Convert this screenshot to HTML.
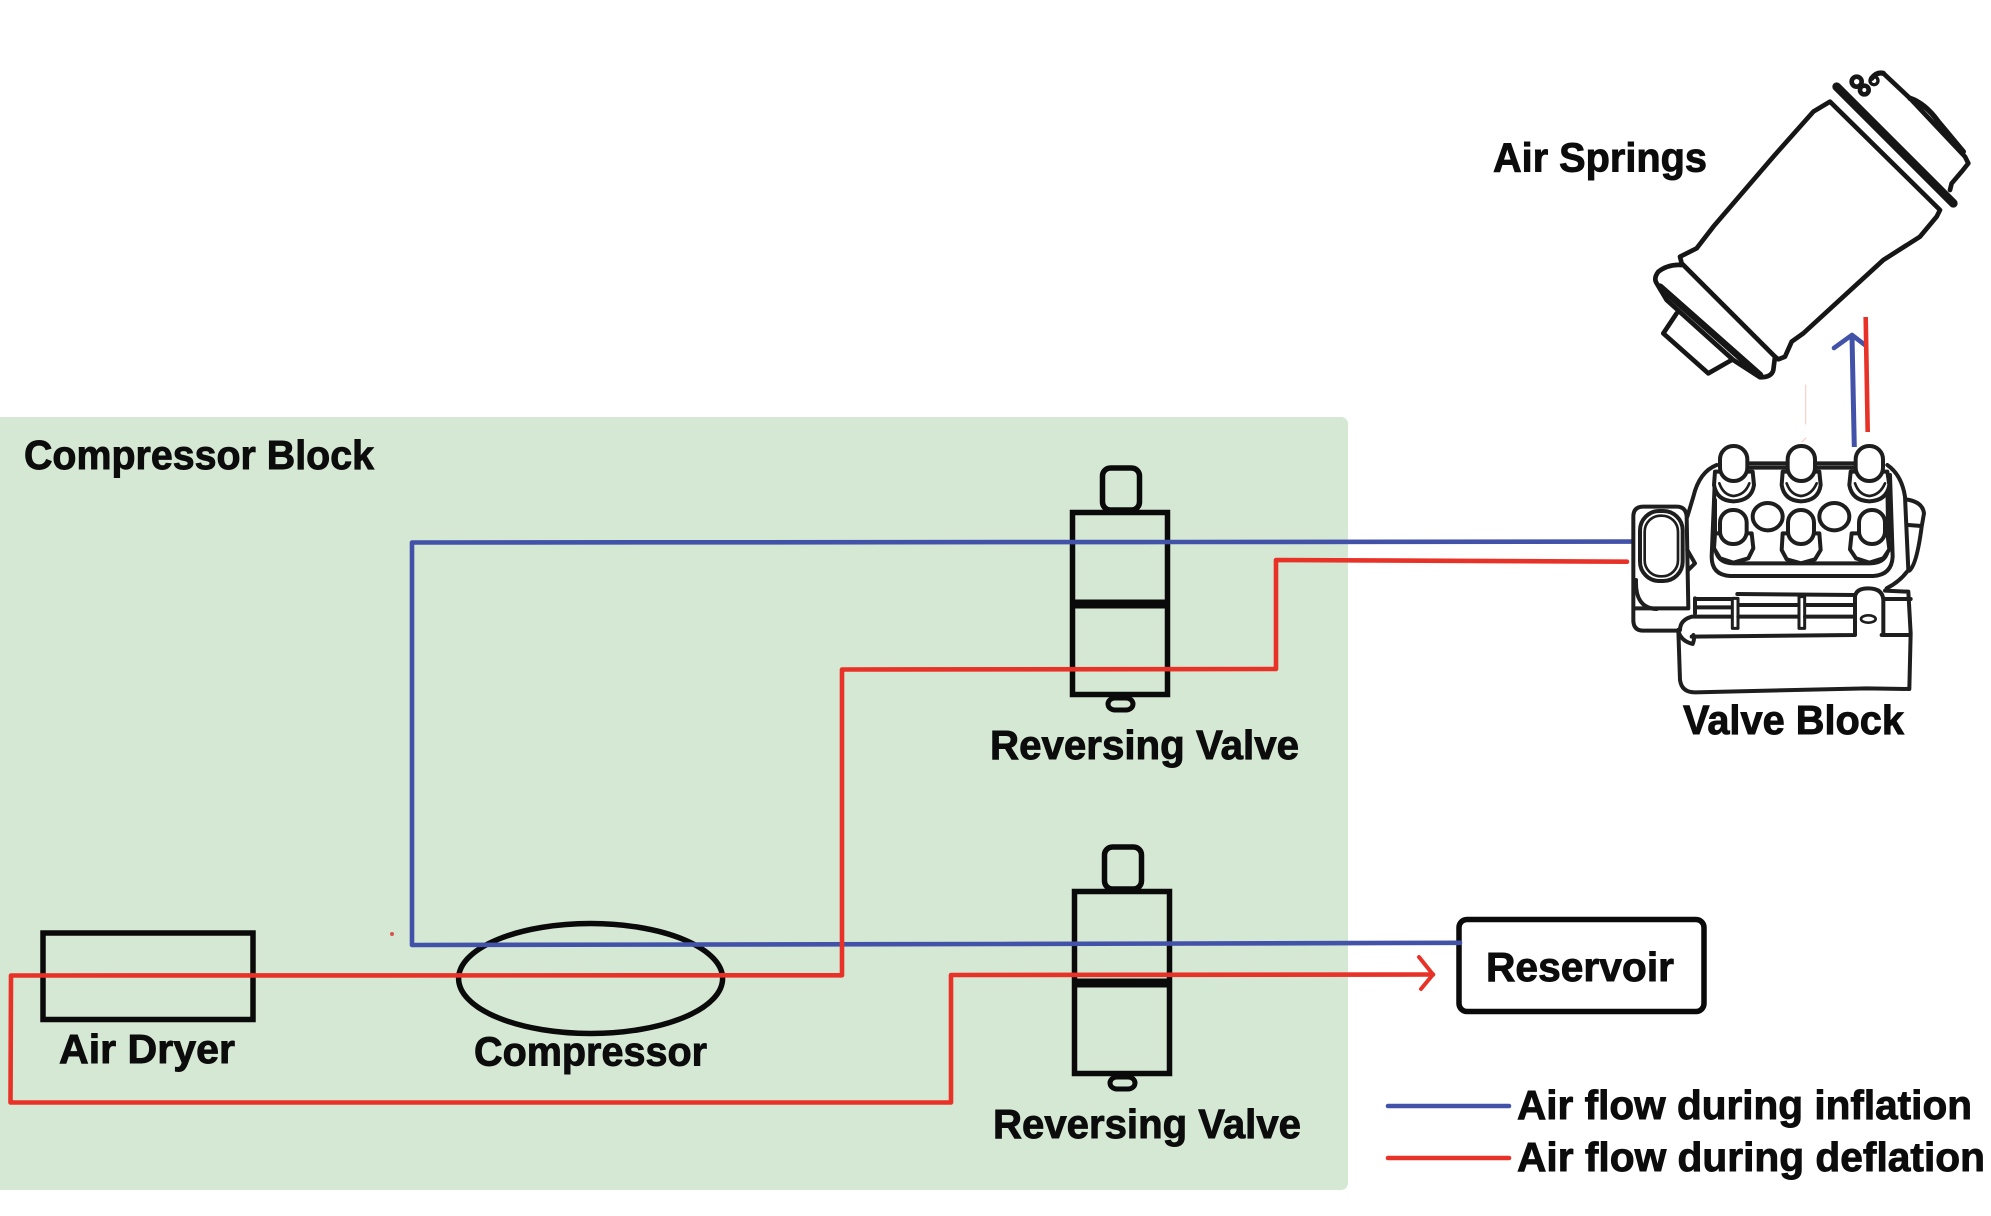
<!DOCTYPE html>
<html><head><meta charset="utf-8"><style>
html,body{margin:0;padding:0;background:#fff;width:1991px;height:1216px;overflow:hidden}
svg{display:block}
text{font-family:"Liberation Sans",sans-serif;font-weight:700;fill:#0c0c0c;stroke:#0c0c0c;stroke-width:.9px;font-size:41px}
</style></head><body>
<svg width="1991" height="1216" viewBox="0 0 1991 1216" xmlns="http://www.w3.org/2000/svg">
<rect x="-8" y="417" width="1356" height="773" rx="7" fill="#d5e8d4"/>

<!-- air dryer, compressor -->
<rect x="43" y="933" width="210" height="86.5" fill="none" stroke="#0a0a0a" stroke-width="5.5"/>
<ellipse cx="590.6" cy="978.5" rx="132" ry="55" fill="none" stroke="#0a0a0a" stroke-width="5.5"/>

<!-- valve 1 -->
<g fill="none" stroke="#0a0a0a">
<rect x="1072.5" y="512.5" width="95" height="182" stroke-width="5.5"/>
<line x1="1070" x2="1170" y1="604" y2="604" stroke-width="9"/>
<rect x="1102.5" y="468" width="37" height="42" rx="8" stroke-width="5.5"/>
<rect x="1108" y="698" width="25" height="12" rx="7" stroke-width="5"/>
<!-- valve 2 -->
<rect x="1074.5" y="891.5" width="95" height="182" stroke-width="5.5"/>
<line x1="1072" x2="1172" y1="983" y2="983" stroke-width="9"/>
<rect x="1104.5" y="847" width="37" height="42" rx="8" stroke-width="5.5"/>
<rect x="1110" y="1077" width="25" height="12" rx="7" stroke-width="5"/>
<!-- reservoir -->
<rect x="1459" y="919.5" width="245" height="92" rx="8" fill="#fff" stroke-width="5.5"/>
</g>

<!-- air flow lines -->
<g fill="none" stroke-width="4.6" stroke-linejoin="round" stroke-linecap="round">
<path d="M1632 541.6 L1175 542 L412 542.5 L412 945 L1000 944 L1460 942.8" stroke="#4352a9"/>
<path d="M1627 561.7 L1276 560 L1276 669 L842 669.5 L842 975.3 L11 975.5 L10.5 1102.5 L951 1102.5 L951 975 L1433 974.5" stroke="#e83228"/>
<path d="M1419 957 L1433 974.5 L1421 989" stroke="#e83228" stroke-width="4"/>
<line x1="1388" x2="1509" y1="1106" y2="1106" stroke="#4352a9"/>
<line x1="1388" x2="1509" y1="1158" y2="1158" stroke="#e83228"/>
<path d="M1854.3 447 L1852 336" stroke="#4352a9" stroke-width="5" stroke-linecap="butt"/>
<path d="M1834 348 L1852 335 L1865 345" stroke="#4352a9"/>
<path d="M1865.7 317 L1867.7 432" stroke="#e83228" stroke-linecap="butt"/>
<path d="M1805.7 385 L1805.7 424 M1806 438 L1802 442" stroke="#f6c9bd" stroke-width="1"/>
</g>
<circle cx="392" cy="934" r="2" fill="#d9534f"/>

<!-- Air spring -->
<g transform="translate(1600 40) scale(.33333)" fill="none" stroke="#161616" stroke-width="14" stroke-linejoin="round" stroke-linecap="round">
<path d="M690 185 L640 215 L520 350 L340 560 L290 625 L240 650 L245 670 L525 950 L535 958 L555 950 L575 905 L610 880 L850 660 L960 590 L1010 530 L1020 510 L690 185"/>
<path d="M710 140 L1060 490" stroke-width="26"/>
<path d="M850 100 L930 175 L1095 350 L1105 370 L1085 395 L1055 430 L1050 450"/>
<path d="M850 100 Q830 95 815 115 M930 175 Q975 190 1015 245 L1090 335" stroke-width="16"/>
<circle cx="770" cy="125" r="15" stroke-width="14"/>
<circle cx="793" cy="150" r="13" stroke-width="14"/>
<circle cx="822" cy="122" r="12" stroke-width="10"/>
<path d="M245 675 Q205 672 175 695 Q160 715 170 730 L200 780 L400 960 L480 1012 Q515 1012 520 990 L525 950"/>
<path d="M180 740 L480 1005" stroke-width="20"/>
<path d="M230 820 L190 880 L325 1000 L395 960"/>
</g>

<!-- Valve block -->
<g transform="translate(1600 400) scale(.33333)" fill="none" stroke="#1e1e1e" stroke-width="12" stroke-linejoin="round" stroke-linecap="round">
<path d="M100 665 L100 350 Q100 320 130 320 L230 320 Q258 320 260 350 L265 625 L100 625 M100 660 Q100 692 130 692 L235 692"/>
<rect x="120" y="333" width="128" height="210" rx="58"/>
<rect x="134" y="347" width="100" height="182" rx="48" stroke-width="8"/>
<path d="M108 540 Q105 625 170 627"/>
<path d="M262 350 L280 290 Q298 215 350 195 M450 190 L560 190 M650 190 L760 190 M450 203 L560 203 M650 203 L760 203 M862 195 Q905 225 915 290 L925 510 Q900 545 860 565"/>
<path d="M345 230 L335 470 Q335 525 390 528 L820 528 Q875 525 878 470 L870 225"/>
<path d="M345 300 L345 440 Q350 490 400 490 L810 490 Q862 490 865 440 L862 240"/>
<g fill="#fff">
<path d="M345 215 L342 255 Q350 302 400 304 Q455 302 462 255 L458 215 Z"/>
<path d="M358 250 Q370 285 400 288 Q435 285 448 250" stroke-width="8"/>
<path d="M548 215 L545 255 Q553 302 603 304 Q655 302 662 255 L658 215 Z"/>
<path d="M560 250 Q572 285 603 288 Q635 285 650 250" stroke-width="8"/>
<path d="M752 215 L748 255 Q756 302 808 304 Q860 302 868 255 L862 215 Z"/>
<path d="M765 250 Q777 285 808 288 Q840 285 855 250" stroke-width="8"/>
<path d="M345 400 L342 445 L360 475 L400 488 L445 475 L460 445 L455 400 Z"/>
<path d="M548 400 L545 450 L560 478 L603 490 L645 478 L662 450 L658 400 Z"/>
<path d="M755 400 L750 448 L768 475 L808 488 L850 475 L868 448 L862 400 Z"/>
<rect x="360" y="138" width="82" height="105" rx="40"/>
<rect x="563" y="138" width="82" height="105" rx="40"/>
<rect x="767" y="138" width="82" height="105" rx="40"/>
<rect x="360" y="330" width="80" height="102" rx="38"/>
<rect x="564" y="330" width="78" height="102" rx="38"/>
<rect x="777" y="330" width="78" height="102" rx="38"/>
<ellipse cx="503" cy="350" rx="45" ry="41"/>
<ellipse cx="703" cy="350" rx="45" ry="41"/>
</g>
<path d="M285 595 L285 640 M285 597 L400 597 M285 622 L395 622 M412 582 L765 585 M420 615 L595 615 M620 615 L765 615"/>
<rect x="397" y="595" width="17" height="90" fill="#fff" stroke-width="9"/>
<rect x="597" y="590" width="17" height="95" fill="#fff" stroke-width="9"/>
<path d="M235 690 L240 840 Q245 877 285 877 L800 865 L928 867 L932 700 L925 575 L855 572 M855 597 L932 597"/>
<path d="M240 690 Q240 660 275 650 L395 650 M415 650 L595 650 M615 650 L765 650 M275 710 L760 705 M845 705 L930 705 M765 705 L765 590 Q768 565 805 565 Q848 565 850 600 L850 705"/>
<path d="M235 690 Q240 722 278 732 Q285 715 280 705"/>
<ellipse cx="805" cy="657" rx="22" ry="11" stroke-width="8"/>
<path d="M918 298 Q968 305 972 340 L965 380 Q950 495 928 512 M925 375 L965 378"/>
<path d="M262 450 L285 490 L265 510"/>
</g>

<!-- text -->
<text x="1493" y="171.5" textLength="214" lengthAdjust="spacingAndGlyphs">Air Springs</text>
<text x="24" y="469" textLength="350" lengthAdjust="spacingAndGlyphs">Compressor Block</text>
<text x="1683" y="734" textLength="221" lengthAdjust="spacingAndGlyphs">Valve Block</text>
<text x="990" y="759" textLength="309" lengthAdjust="spacingAndGlyphs">Reversing Valve</text>
<text x="993" y="1138" textLength="308" lengthAdjust="spacingAndGlyphs">Reversing Valve</text>
<text x="59" y="1063" textLength="176" lengthAdjust="spacingAndGlyphs">Air Dryer</text>
<text x="474" y="1065.5" textLength="233" lengthAdjust="spacingAndGlyphs">Compressor</text>
<text x="1486" y="981" textLength="188" lengthAdjust="spacingAndGlyphs">Reservoir</text>
<text x="1517" y="1119" textLength="455" lengthAdjust="spacingAndGlyphs">Air flow during inflation</text>
<text x="1517" y="1171" textLength="468" lengthAdjust="spacingAndGlyphs">Air flow during deflation</text>
</svg>
</body></html>
